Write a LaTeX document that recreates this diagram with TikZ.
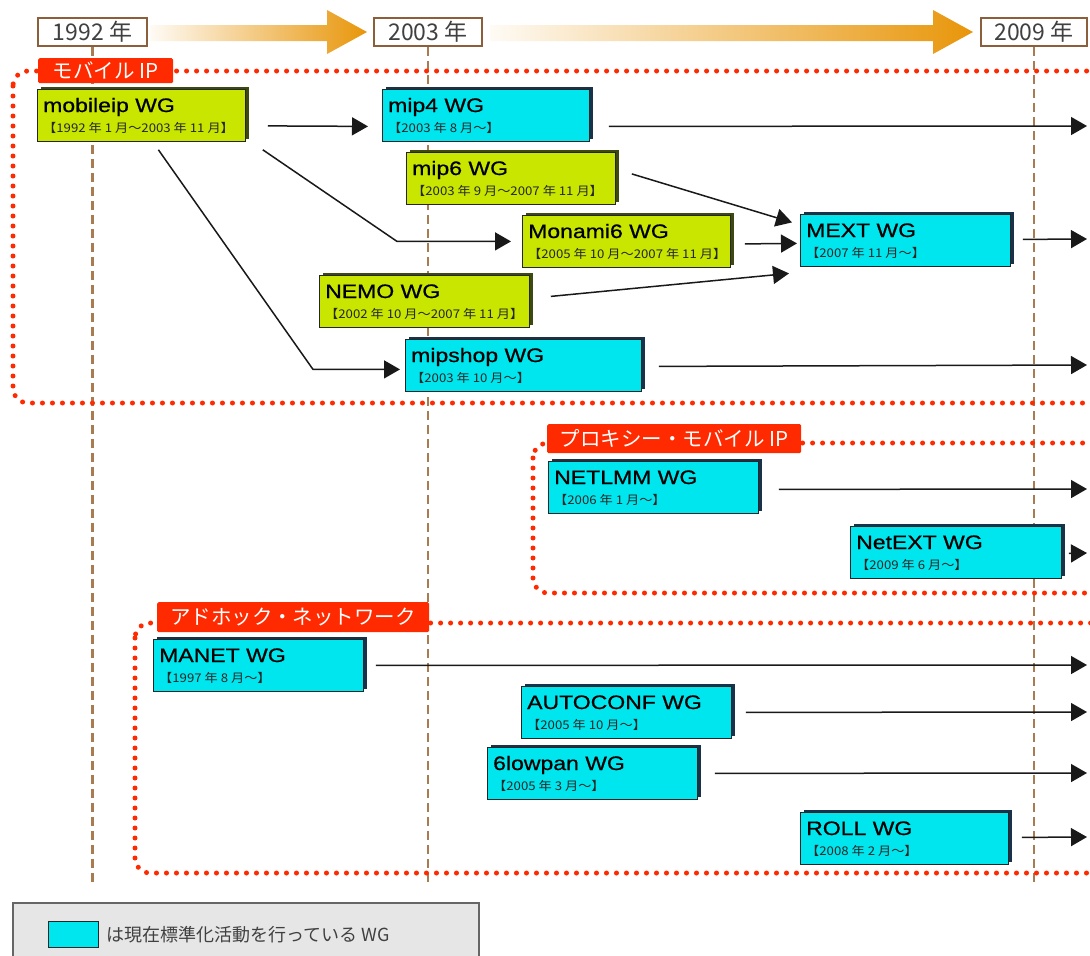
\documentclass[tikz,border=0pt]{standalone}
\usepackage{fontspec}
\setmainfont{Noto Sans CJK JP}
\newfontfamily\latf[FakeStretch=1.18,FakeBold=0.7]{Liberation Sans}
\newfontfamily\subf[FakeStretch=1.1]{Noto Sans CJK JP}
\usetikzlibrary{arrows.meta,shadows,calc}
\definecolor{limeC}{HTML}{C8E600}
\definecolor{limeD}{HTML}{3C4A12}
\definecolor{cyanC}{HTML}{00E6EE}
\definecolor{cyanD}{HTML}{17324A}
\definecolor{grpred}{HTML}{FF2A00}
\definecolor{yrbrown}{HTML}{8B5E3C}
\definecolor{dashbrown}{HTML}{A87C50}
\definecolor{arrorange}{HTML}{E8960A}
\definecolor{legfill}{HTML}{E6E6E6}
\tikzset{
  wgbox/.style={draw=black!85, line width=0.8pt, anchor=north west, inner sep=0pt, minimum height=52pt},
  wglime/.style={wgbox, fill=limeC, general shadow={fill=limeD, shadow xshift=4pt, shadow yshift=2pt}},
  wgcyan/.style={wgbox, fill=cyanC, general shadow={fill=cyanD, shadow xshift=4pt, shadow yshift=2pt}},
  wgtitle/.style={anchor=base west, inner sep=0pt, font=\latf\fontsize{19.5}{20}\selectfont},
  wgsub/.style={anchor=base west, inner sep=0pt, font=\subf\fontsize{12}{13}\selectfont, text=black!85},
  arr/.style={draw=black!90, line width=1.5pt, -{Triangle[length=16pt,width=18pt]}},
  yearbox/.style={draw=yrbrown, line width=2pt, fill=white, inner sep=0pt, minimum height=28pt, text=black!75, font=\fontsize{23}{24}\selectfont},
  yrdash/.style={draw=dashbrown, line width=2.2pt, dash pattern=on 9pt off 5pt},
  grpdot/.style={draw=grpred, line width=5pt, dash pattern=on 0pt off 10pt, line cap=round, rounded corners=15pt},
  grplabel/.style={fill=grpred, text=white, anchor=north west, inner sep=0pt, rounded corners=1.5pt, font=\fontsize{20.5}{21}\selectfont},
}
\newcommand\wgnode[7]{%
  \node[#1, minimum width=#5pt] (#2) at (#3,#4) {};
  \node[wgtitle] (#2-t) at ([xshift=6pt,yshift=-23pt]#2.north west) {#6};
  \node[wgsub] (#2-s) at ([xshift=6pt,yshift=-43pt]#2.north west) {#7};
}
\begin{document}
\begin{tikzpicture}[x=1pt,y=-1pt]
\useasboundingbox (0,0) rectangle (1090,956);
\clip (0,0) rectangle (1090,956);
\fill[white] (0,0) rectangle (1090,956);

% time arrows
\shade[left color=arrorange!4, right color=arrorange] (150,25) -- (327,25) -- (327,10) -- (367,32) -- (327,54) -- (327,41) -- (150,41) -- cycle;
\shade[left color=arrorange!4, right color=arrorange] (490,25) -- (933,25) -- (933,10) -- (973,32) -- (933,54) -- (933,41) -- (490,41) -- cycle;

% year boxes
\node[yearbox, minimum width=109pt] (y1992) at (92.5,32) {1992 年};
\node[yearbox, minimum width=108pt] (y2003) at (428,32) {2003 年};
\node[yearbox, minimum width=106pt] (y2009) at (1034,32) {2009 年};
\coordinate (dashend) at (0,883);
\draw[yrdash] (y1992.south) -- (y1992.south |- dashend);
\draw[yrdash] (y2003.south) -- (y2003.south |- dashend);
\draw[yrdash] (y2009.south) -- (y2009.south |- dashend);

% groups
\draw[grpdot] (13,71) rectangle (1110,403);
\draw[grpdot] (533,443) rectangle (1110,593);
\draw[grpdot] (135,623) rectangle (1110,873);
\node[grplabel, minimum width=135pt, minimum height=25pt] (g1) at (38,58) {モバイル IP};
\node[grplabel, minimum width=254pt, minimum height=29pt] (g2) at (547,424) {プロキシー・モバイル IP};
\node[grplabel, minimum width=272pt, minimum height=30pt] (g3) at (157,602) {アドホック・ネットワーク};

% working groups
\wgnode{wglime}{mobileip}{37}{89}{208}{mobileip WG}{【1992 年 1 月〜2003 年 11 月】}
\wgnode{wgcyan}{mip4}{382}{89}{207}{mip4 WG}{【2003 年 8 月〜】}
\wgnode{wglime}{mip6}{406}{152}{209}{mip6 WG}{【2003 年 9 月〜2007 年 11 月】}
\wgnode{wglime}{monami}{522}{215}{208}{Monami6 WG}{【2005 年 10 月〜2007 年 11 月】}
\wgnode{wgcyan}{mext}{800}{214}{210}{MEXT WG}{【2007 年 11 月〜】}
\wgnode{wglime}{nemo}{319}{275}{210}{NEMO WG}{【2002 年 10 月〜2007 年 11 月】}
\wgnode{wgcyan}{mipshop}{405}{339}{236}{mipshop WG}{【2003 年 10 月〜】}
\wgnode{wgcyan}{netlmm}{548}{461}{210}{NETLMM WG}{【2006 年 1 月〜】}
\wgnode{wgcyan}{netext}{850}{526}{211}{NetEXT WG}{【2009 年 6 月〜】}
\wgnode{wgcyan}{manet}{153}{639}{210}{MANET WG}{【1997 年 8 月〜】}
\wgnode{wgcyan}{autoconf}{521}{686}{210}{AUTOCONF WG}{【2005 年 10 月〜】}
\wgnode{wgcyan}{sixlowpan}{487}{747}{210}{6lowpan WG}{【2005 年 3 月〜】}
\wgnode{wgcyan}{roll}{800}{812}{208}{ROLL WG}{【2008 年 2 月〜】}

% right edge ends
\coordinate (r1) at (1087,126);
\coordinate (r2) at (1087,239);
\coordinate (r3) at (1087,365);
\coordinate (r4) at (1087,489);
\coordinate (r5) at (1087,553);
\coordinate (r6) at (1087,665);
\coordinate (r7) at (1087,712);
\coordinate (r8) at (1087,773);
\coordinate (r9) at (1087,837);

% connectors
\draw[arr] ([xshift=22pt,yshift=-10.5pt]mobileip.east) -- ([xshift=-14pt,yshift=-11pt]mip4.west);
\draw[arr] ([xshift=19pt,yshift=-11pt]mip4.east) -- (r1);
\draw[arr] ([xshift=17pt,yshift=-8pt]mobileip.south east) -- ([xshift=-125pt]monami.west) -- ([xshift=-11pt]monami.west);
\draw[arr] ([xshift=17pt,yshift=-8pt]mobileip.south) -- ([xshift=-92pt,yshift=-4pt]mipshop.west) -- ([xshift=-5pt,yshift=-4pt]mipshop.west);
\draw[arr] ([xshift=16pt,yshift=4.5pt]mip6.east) -- ([xshift=-8pt,yshift=18pt]mext.west);
\draw[arr] ([xshift=14pt,yshift=-2.5pt]monami.east) -- ([xshift=-3pt,yshift=-3pt]mext.west);
\draw[arr] ([xshift=21pt,yshift=5pt]nemo.east) -- ([xshift=-11pt,yshift=-33pt]mext.west);
\draw[arr] ([xshift=12pt,yshift=1pt]mext.east) -- (r2);
\draw[arr] ([xshift=17pt,yshift=-1pt]mipshop.east) -- (r3);
\draw[arr] ([xshift=20pt,yshift=-2pt]netlmm.east) -- (r4);
\draw[arr] ([xshift=7pt,yshift=-1pt]netext.east) -- (r5);
\draw[arr] ([xshift=12pt]manet.east) -- (r6);
\draw[arr] ([xshift=14pt]autoconf.east) -- (r7);
\draw[arr] ([xshift=17pt]sixlowpan.east) -- (r8);
\draw[arr] ([xshift=13pt,yshift=1pt]roll.east) -- (r9);

% legend
\node[draw=black!60, line width=1.5pt, fill=legfill, anchor=north west, minimum width=466pt, minimum height=80pt, inner sep=0pt] (legend) at (12,902) {};
\node[draw=black!85, line width=1pt, fill=cyanC, anchor=north west, minimum width=50pt, minimum height=26pt, inner sep=0pt] (swatch) at (48,921) {};
\node[anchor=west, inner sep=0pt, text=black!75, font=\fontsize{18}{19}\selectfont] (legtxt) at ([xshift=7pt]swatch.east) {は現在標準化活動を行っている WG};
\end{tikzpicture}
\end{document}
